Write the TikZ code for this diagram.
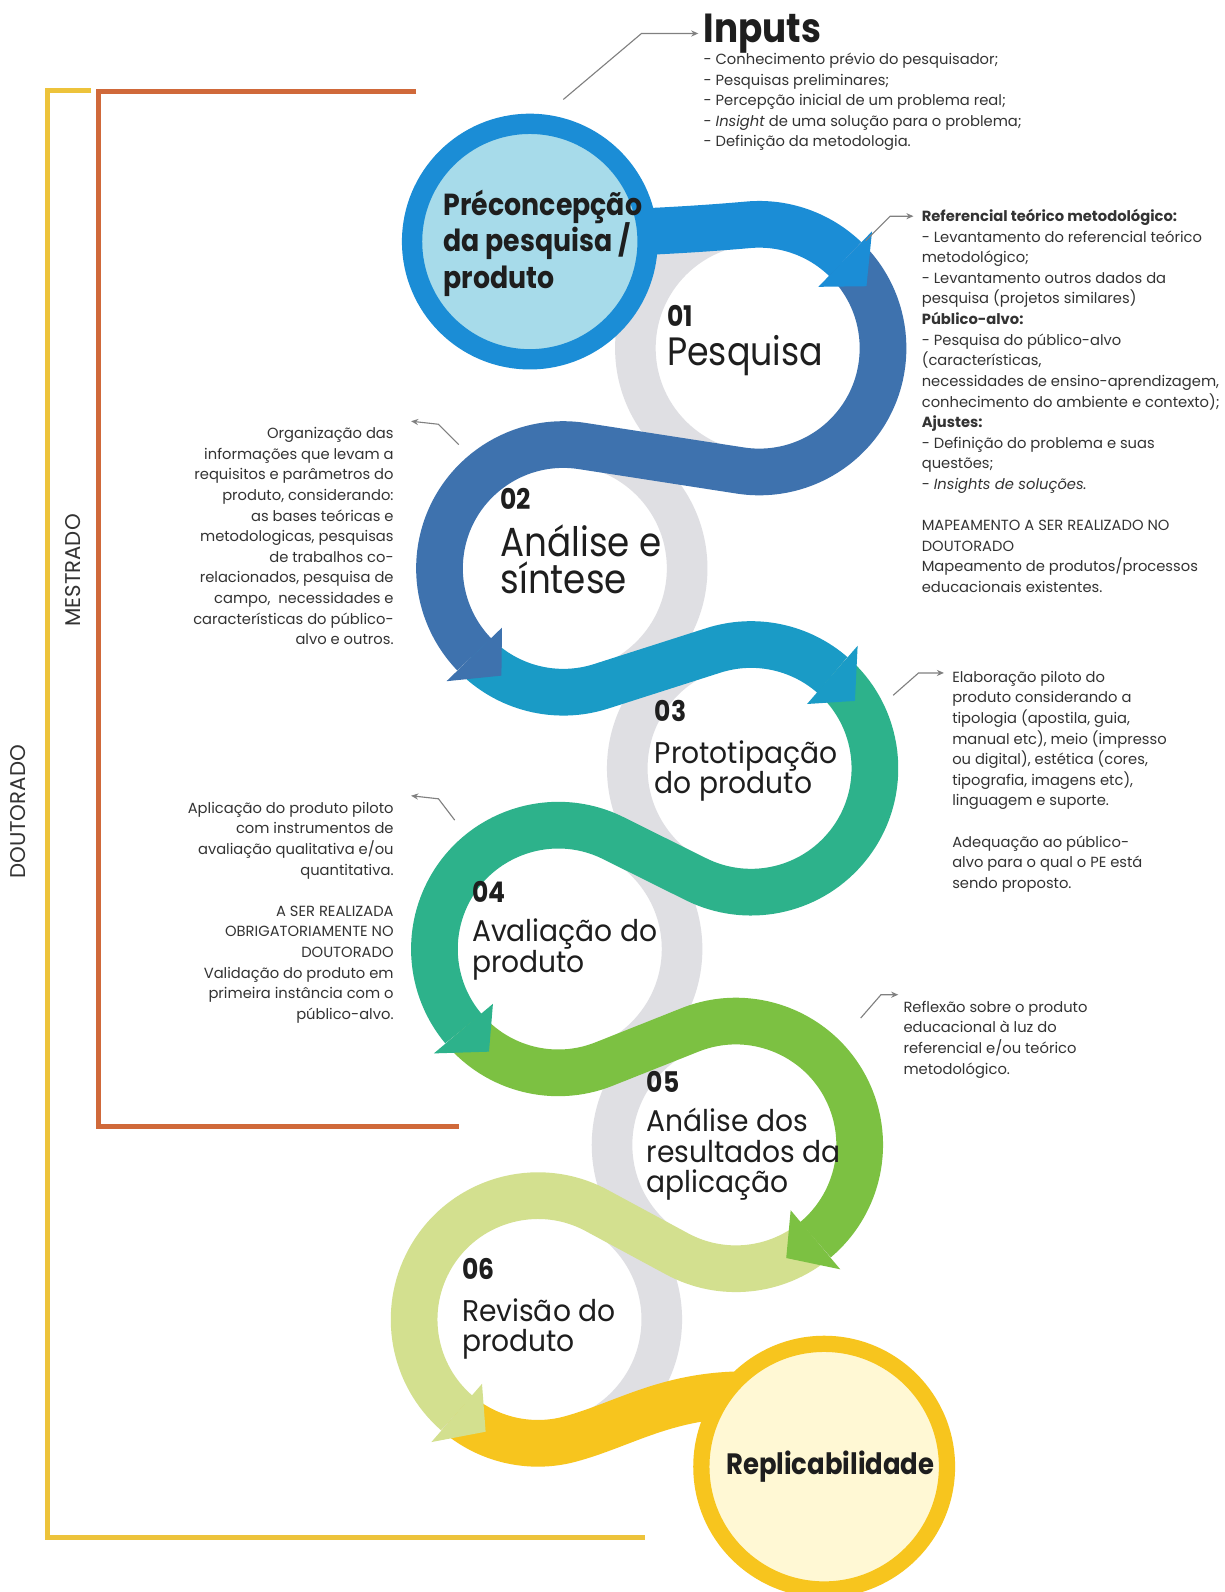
\documentclass[tikz,border=0pt]{standalone}
\usepackage{fontspec}
\setmainfont{Poppins}
\newfontfamily\titlef{Poppins}[FakeStretch=0.88]
\newfontfamily\ringf{Poppins}[FakeStretch=0.94]
\usetikzlibrary{calc,arrows.meta}
\definecolor{cA}{HTML}{1B8DD6}
\definecolor{cB}{HTML}{3E72AE}
\definecolor{cC}{HTML}{1A9BC6}
\definecolor{cD}{HTML}{2DB28B}
\definecolor{cE}{HTML}{7CC142}
\definecolor{cF}{HTML}{D3E08F}
\definecolor{cG}{HTML}{F7C51E}
\definecolor{cPfill}{HTML}{A7DBEA}
\definecolor{cRfill}{HTML}{FFF8D4}
\definecolor{cGray}{HTML}{DFDFE3}
\definecolor{cOrange}{HTML}{D0693A}
\definecolor{cYellow}{HTML}{EDC33B}
\definecolor{cLine}{HTML}{808080}
\definecolor{cText}{HTML}{333333}
\definecolor{cTitle}{HTML}{1E1E1E}
\newcommand{\ribtip}[4]{\fill[#1] ($(#2)+(#3:84)$) -- ($(#2)+(#3:160)$) -- ($(#2)+(#4:122)$) -- cycle;}
\begin{document}
\begin{tikzpicture}[x=1pt,y=-1pt,
  band/.style={line width=46pt, draw=#1},
  track/.style={line width=40pt, draw=cGray},
  bracket/.style={line width=5pt, draw=#1},
  callout/.style={draw=cLine, line width=1.1pt, -{Stealth[length=7pt,width=6pt]}},
  body/.style={font=\fontsize{14.5}{20.3}\selectfont, text=cText, inner sep=0pt},
  num/.style={font=\titlef\bfseries\fontsize{28}{28}\selectfont, text=cTitle, inner sep=0pt, anchor=base west},
  ttl/.style={font=\titlef\fontsize{#1}{#1}\selectfont, text=cTitle, inner sep=0pt, anchor=base west},
  rtl/.style={font=\ringf\fontsize{29.5}{29.5}\selectfont, text=cTitle, inner sep=0pt, anchor=base west},
  ptl/.style={font=\titlef\bfseries\fontsize{30}{30}\selectfont, text=cTitle, inner sep=0pt, anchor=base west},
  side/.style={font=\fontsize{21}{21}\selectfont, text=cText, inner sep=0pt, rotate=90}
]
\fill[white] (0,0) rectangle (1206,1568.5);
\useasboundingbox (0,0) rectangle (1206,1568.5);

% ring centres
\coordinate (pc) at (522,238);
\coordinate (r1) at (748,343);
\coordinate (r2) at (555,560);
\coordinate (r3) at (740,757);
\coordinate (r4) at (550,935);
\coordinate (r5) at (725,1128);
\coordinate (r6) at (530,1300);
\coordinate (rc) at (812,1445);

% brackets
\draw[bracket=cYellow] (90,89) -- (47,89) -- (47,1515) -- (635,1515);
\draw[bracket=cOrange] (410,90) -- (97,90) -- (97,1110) -- (452,1110);

% grey tracks
\foreach \r in {r1,r2,r3,r4,r5,r6} \draw[track] (\r) circle[radius=122];

% ribbon G (yellow)
\draw[band=cG] ($(r6)+(131:122)$) arc[start angle=131, end angle=75, radius=122]
  .. controls (620,1402) and (665,1368) .. (760,1375);
% ribbon F
\draw[band=cF] ($(r5)+(50:122)$) arc[start angle=50, end angle=118.4, radius=122]
  -- ($(r6)+(298.4:122)$) arc[start angle=298.4, end angle=131, radius=122];
\ribtip{cF}{r6}{131}{115}
% ribbon E
\draw[band=cE] ($(r4)+(140:122)$) arc[start angle=140, end angle=68.4, radius=122]
  -- ($(r5)+(248.4:122)$) arc[start angle=248.4, end angle=410, radius=122];
\ribtip{cE}{r5}{50}{66}
% ribbon D
\draw[band=cD] ($(r3)+(311:122)$) arc[start angle=311, end angle=476.5, radius=122]
  -- ($(r4)+(296.5:122)$) arc[start angle=296.5, end angle=140, radius=122];
\ribtip{cD}{r4}{140}{124}
% ribbon C
\draw[band=cC] ($(r2)+(136:122)$) arc[start angle=136, end angle=72.25, radius=122]
  -- ($(r3)+(252.25:122)$) arc[start angle=252.25, end angle=311, radius=122];
\ribtip{cC}{r3}{311}{327}
% ribbon B
\draw[band=cB] ($(r1)+(314:122)$) arc[start angle=314, end angle=458.9, radius=122]
  -- ($(r2)+(278.9:122)$) arc[start angle=278.9, end angle=136, radius=122];
\ribtip{cB}{r2}{136}{120}
% ribbon A
\draw[band=cA] (590,230) .. controls (650,228) and (697.6,225) .. ($(r1)+(265:122)$)
  arc[start angle=265, end angle=314, radius=122];
\ribtip{cA}{r1}{314}{330}

% end circles
\draw[draw=cA, line width=20pt, fill=cPfill] (pc) circle[radius=116];
\draw[draw=cG, line width=16pt, fill=cRfill] (rc) circle[radius=121];

% titles
\node[font=\titlef\bfseries\fontsize{40}{40}\selectfont, text=cTitle, inner sep=0pt, anchor=base west] (inputs) at (693,42) {Inputs};
\node[body, anchor=north west, align=left] (inlist) at (693,52) {- Conhecimento prévio do pesquisador;\\- Pesquisas preliminares;\\- Percepção inicial de um problema real;\\- \textit{Insight} de uma solução para o problema;\\- Definição da metodologia.};

\node[ptl] (pa) at (437,212) {Préconcepção};
\node[ptl] (pb) at (437,248) {da pesquisa /};
\node[ptl] (pd) at (437,284) {produto};

\node[num] (n01) at (657,322) {01};
\node[ttl=39] (t01) at (657,360) {Pesquisa};
\node[num] (n02) at (493,502) {02};
\node[ttl=40] (t02a) at (493,548) {Análise e};
\node[ttl=40] (t02b) at (493,585) {síntese};
\node[num] (n03) at (645,711) {03};
\node[rtl] (t03a) at (645,752) {Prototipação};
\node[rtl] (t03b) at (645,782) {do produto};
\node[num] (n04) at (465,889) {04};
\node[rtl] (t04a) at (465,928) {Avaliação do};
\node[rtl] (t04b) at (465,958) {produto};
\node[num] (n05) at (637,1076) {05};
\node[rtl] (t05a) at (637,1115) {Análise dos};
\node[rtl] (t05b) at (637,1145) {resultados da};
\node[rtl] (t05c) at (637,1175) {aplicação};
\node[num] (n06) at (455,1261) {06};
\node[rtl] (t06a) at (455,1302) {Revisão do};
\node[rtl] (t06b) at (455,1332) {produto};
\node[font=\titlef\bfseries\fontsize{29}{29}\selectfont, text=cTitle, inner sep=0pt] (repl) at (818,1445) {Replicabilidade};

\node[side] (mest) at (72,562) {MESTRADO};
\node[side] (dout) at (18,800) {DOUTORADO};

% body texts
\node[body, anchor=north west, align=left] (ref1) at (908,206) {\textbf{Referencial teórico metodológico:}\\- Levantamento do referencial teórico\\metodológico;\\- Levantamento outros dados da\\pesquisa (projetos similares)\\\textbf{Público-alvo:}\\- Pesquisa do público-alvo\\(características,\\necessidades de ensino-aprendizagem,\\conhecimento do ambiente e contexto);\\\textbf{Ajustes:}\\- Definição do problema e suas\\questões;\\- \textit{Insights de soluções.}\\[20.3pt]MAPEAMENTO A SER REALIZADO NO\\DOUTORADO\\Mapeamento de produtos/processos\\educacionais existentes.};

\node[body, anchor=north east, align=right] (org) at (388,421) {Organização das\\informações que levam a\\requisitos e parâmetros do\\produto, considerando:\\as bases teóricas e\\metodologicas, pesquisas\\de trabalhos co-\\relacionados, pesquisa de\\campo,\ \ necessidades e\\características do público-\\alvo e outros.};

\node[body, anchor=north west, align=left] (elab) at (938,661) {Elaboração piloto do\\produto considerando a\\tipologia (apostila, guia,\\manual etc), meio (impresso\\ou digital), estética (cores,\\tipografia, imagens etc),\\linguagem e suporte.\\[20.3pt]Adequação ao público-\\alvo para o qual o PE está\\sendo proposto.};

\node[body, anchor=north east, align=right] (aplic) at (388,790) {Aplicação do produto piloto\\com instrumentos de\\avaliação qualitativa e/ou\\quantitativa.\\[20.3pt]A SER REALIZADA\\OBRIGATORIAMENTE NO\\DOUTORADO\\Validação do produto em\\primeira instância com o\\público-alvo.};

\node[body, anchor=north west, align=left] (refl) at (890,986) {Reflexão sobre o produto\\educacional à luz do\\referencial e/ou teórico\\metodológico.};

% callouts
\coordinate (k1a) at (555,98);  \coordinate (k1b) at (632,33);  \coordinate (k1c) at (688,33);
\coordinate (k2a) at (853,237); \coordinate (k2b) at (877,213); \coordinate (k2c) at (900,213);
\coordinate (k3a) at (452,438); \coordinate (k3b) at (432,418); \coordinate (k3c) at (405,415);
\coordinate (k4a) at (880,685); \coordinate (k4b) at (905,663); \coordinate (k4c) at (930,663);
\coordinate (k5a) at (448,808); \coordinate (k5b) at (432,787); \coordinate (k5c) at (405,784);
\coordinate (k6a) at (848,1003); \coordinate (k6b) at (868,980); \coordinate (k6c) at (885,980);
\draw[callout] (k1a) -- (k1b) -- (k1c);
\draw[callout] (k2a) -- (k2b) -- (k2c);
\draw[callout] (k3a) -- (k3b) -- (k3c);
\draw[callout] (k4a) -- (k4b) -- (k4c);
\draw[callout] (k5a) -- (k5b) -- (k5c);
\draw[callout] (k6a) -- (k6b) -- (k6c);
\end{tikzpicture}
\end{document}
